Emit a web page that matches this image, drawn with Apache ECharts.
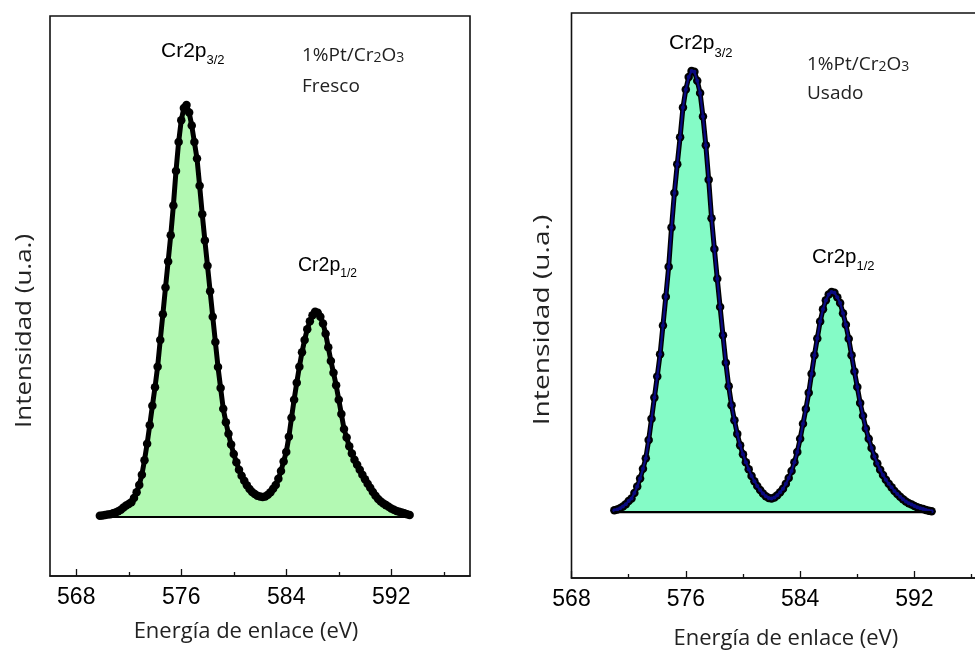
<!DOCTYPE html>
<html><head><meta charset="utf-8">
<script src="https://cdn.jsdelivr.net/npm/echarts@6/dist/echarts.min.js"></script>
<style>html,body{margin:0;padding:0;background:#fff}#c{width:975px;height:654px}</style>
</head><body><div id="c"></div>
<script>
// ---- data (binding energy in eV, intensity in arbitrary units, baseline = 0) ----
const freshEnergy = [
569.8,570.0,570.2,570.4,570.6,570.8,571.0,571.2,571.4,571.6,
571.8,572.0,572.2,572.4,572.6,572.8,573.0,573.2,573.4,573.6,
573.8,574.0,574.2,574.4,574.6,574.8,575.0,575.2,575.4,575.6,
575.8,576.0,576.2,576.4,576.6,576.8,577.0,577.2,577.4,577.6,
577.8,578.0,578.2,578.4,578.6,578.8,579.0,579.2,579.4,579.6,
579.8,580.0,580.2,580.4,580.6,580.8,581.0,581.2,581.4,581.6,
581.8,582.0,582.2,582.4,582.6,582.8,583.0,583.2,583.4,583.6,
583.8,584.0,584.2,584.4,584.6,584.8,585.0,585.2,585.4,585.6,
585.8,586.0,586.2,586.4,586.6,586.8,587.0,587.2,587.4,587.6,
587.8,588.0,588.2,588.4,588.6,588.8,589.0,589.2,589.4,589.6,
589.8,590.0,590.2,590.4,590.6,590.8,591.0,591.2,591.4,591.6,
591.8,592.0,592.2,592.4,592.6,592.8,593.0,593.2,593.4];
const freshIntensity = [
0.3,0.4,0.5,0.6,0.7,0.9,1.1,1.4,1.8,2.3,
2.8,3.2,3.6,4.6,6.0,7.8,10.3,13.8,17.8,22.3,
27.0,31.5,36.5,43.0,49.2,55.7,62.0,68.4,75.6,84.0,
91.0,96.3,99.3,100,98.2,95.0,91.0,87.0,80.4,73.5,
67.1,61.0,54.8,48.6,42.5,36.4,31.3,26.3,23.0,20.2,
17.6,15.3,13.3,11.5,10.0,8.8,7.7,6.8,6.1,5.6,
5.2,5.0,4.9,5.0,5.4,6.0,6.9,7.8,9.3,11.2,
13.5,15.8,19.5,24.1,28.5,32.6,36.5,40.0,43.0,45.6,
47.5,49.0,49.8,49.6,48.6,47.0,44.5,41.2,37.9,35.0,
32.0,28.5,25.0,21.4,19.3,17.2,15.4,13.9,12.7,11.5,
10.3,9.2,8.1,7.1,6.1,5.2,4.4,3.8,3.3,2.9,
2.5,2.1,1.8,1.5,1.3,1.1,0.9,0.7,0.5];
const usedEnergy = [
571.0,571.2,571.4,571.6,571.8,572.0,572.2,572.4,572.6,572.8,
573.0,573.2,573.4,573.6,573.8,574.0,574.2,574.4,574.6,574.8,
575.0,575.2,575.4,575.6,575.8,576.0,576.2,576.4,576.6,576.8,
577.0,577.2,577.4,577.6,577.8,578.0,578.2,578.4,578.6,578.8,
579.0,579.2,579.4,579.6,579.8,580.0,580.2,580.4,580.6,580.8,
581.0,581.2,581.4,581.6,581.8,582.0,582.2,582.4,582.6,582.8,
583.0,583.2,583.4,583.6,583.8,584.0,584.2,584.4,584.6,584.8,
585.0,585.2,585.4,585.6,585.8,586.0,586.2,586.4,586.6,586.8,
587.0,587.2,587.4,587.6,587.8,588.0,588.2,588.4,588.6,588.8,
589.0,589.2,589.4,589.6,589.8,590.0,590.2,590.4,590.6,590.8,
591.0,591.2,591.4,591.6,591.8,592.0,592.2,592.4,592.6,592.8,
593.0,593.2];
const usedIntensity = [
0.4,0.6,0.9,1.3,1.8,2.5,3.1,4.3,5.8,7.6,
9.8,12.2,16.3,21.1,25.9,30.7,35.7,42.2,48.7,55.5,
64.4,72.2,78.7,84.8,91.5,95.6,98.4,99.8,99.6,97.6,
94.8,89.5,83.0,75.2,66.5,59.5,52.8,46.4,40.0,33.8,
28.5,24.2,20.8,17.7,15.1,13.1,11.3,9.7,8.2,7.0,
5.9,5.0,4.2,3.6,3.2,3.1,3.3,3.8,4.5,5.3,
6.4,7.7,9.3,11.3,13.6,16.6,20.0,23.3,27.0,31.3,
35.5,39.3,43.1,45.9,47.9,49.2,49.8,49.6,48.6,47.3,
45.0,42.4,39.2,35.5,31.8,28.3,24.7,21.8,18.9,16.6,
14.5,12.6,11.0,9.6,8.4,7.3,6.4,5.6,4.8,4.1,
3.5,2.9,2.4,2.0,1.7,1.4,1.1,0.9,0.7,0.5,
0.3,0.2];
const majorTicks = [568, 576, 584, 592];
const minorTicks = [572, 580, 588, 596];
const xTitle = 'Energía de enlace (eV)';
const yTitle = 'Intensidad (u.a.)';
const peakMain = 'Cr2p';
const peak1Sub = '3/2';
const peak2Sub = '1/2';
const sampleTokens = [['1%Pt/Cr', 0], ['2', 1], ['O', 0], ['3', 1]];
const freshLabel = 'Fresco';
const usedLabel = 'Usado';

// ---- helpers ----
const pairs = (xs, ys) => xs.map((x, i) => [x, ys[i]]);
const mctx = document.createElement('canvas').getContext('2d');
function measure(t, font) { mctx.font = font; return mctx.measureText(t).width; }
const ARIAL = '"Liberation Sans", Arial, sans-serif';
const SANS = '"Open Sans", sans-serif';
function txt(x, y, text, size, family, color) {
  return { type: 'text', x: x, y: y, silent: true,
    style: { text: text, font: size + 'px ' + family, fill: color, align: 'left', verticalAlign: 'top' } };
}
function row(x, y, tokens, family, size, subSize, subDy, color) {
  const out = []; let cx = x;
  tokens.forEach(([t, isSub]) => {
    const s = isSub ? subSize : size;
    out.push(txt(cx, isSub ? y + subDy : y, t, s, family, color));
    cx += measure(t, s + 'px ' + family);
  });
  return out;
}

const chart = echarts.init(document.getElementById('c'), null, { renderer: 'canvas' });

function xAxes(grid, min, max, nameGap, namePad) {
  return [
    { type: 'value', gridIndex: grid, min: min, max: max, position: 'bottom',
      axisLine: { show: true, onZero: false, lineStyle: { color: '#111', width: 1.6 } },
      axisTick: { show: true, inside: true, length: 7, customValues: majorTicks, lineStyle: { color: '#111', width: 1.3 } },
      axisLabel: { show: true, customValues: majorTicks, fontSize: 23, fontFamily: ARIAL, color: '#000', margin: 10 },
      splitLine: { show: false },
      name: xTitle, nameLocation: 'middle', nameGap: nameGap,
      nameTextStyle: { fontFamily: SANS, fontSize: 22, color: '#222', padding: namePad } },
    { type: 'value', gridIndex: grid, min: min, max: max, position: 'bottom',
      axisLine: { show: false, onZero: false },
      axisTick: { show: true, inside: true, length: 4, customValues: minorTicks, lineStyle: { color: '#111', width: 1.3 } },
      axisLabel: { show: false }, splitLine: { show: false } }
  ];
}
function yAxis(grid, min, max) {
  return { type: 'value', gridIndex: grid, min: min, max: max,
    axisLine: { show: false, onZero: false }, axisTick: { show: false }, axisLabel: { show: false }, splitLine: { show: false } };
}

const graphics = [].concat(
  row(161, 41, [[peakMain, 0], [peak1Sub, 1]], ARIAL, 21, 13, 13, '#000'),
  row(298, 256, [[peakMain, 0], [peak2Sub, 1]], ARIAL, 19.5, 12, 12, '#000'),
  row(302, 46, sampleTokens, SANS, 19, 14, 5, '#222'),
  [txt(302, 77, freshLabel, 19, SANS, '#222')],
  row(669, 33, [[peakMain, 0], [peak1Sub, 1]], ARIAL, 21, 13, 13.5, '#000'),
  row(812, 247, [[peakMain, 0], [peak2Sub, 1]], ARIAL, 20.5, 13, 13, '#000'),
  row(807, 55, sampleTokens, SANS, 19, 14, 5, '#222'),
  [txt(807, 84.5, usedLabel, 19, SANS, '#222')],
  [{ type: 'text', x: 25, y: 331, rotation: Math.PI / 2, scaleX: 1.18, silent: true,
     style: { text: yTitle, font: '22px ' + SANS, fill: '#222', align: 'center', verticalAlign: 'middle' } },
   { type: 'text', x: 543, y: 320, rotation: Math.PI / 2, scaleX: 1.28, silent: true,
     style: { text: yTitle, font: '22px ' + SANS, fill: '#222', align: 'center', verticalAlign: 'middle' } }]
);

const freshN = freshEnergy.length - 1, usedN = usedEnergy.length - 1;

chart.setOption({
  animation: false,
  backgroundColor: '#fff',
  grid: [
    { left: 50, top: 16, width: 420, height: 560, outerBoundsMode: 'none', containLabel: false,
      show: true, borderColor: '#111', borderWidth: 1.6, backgroundColor: 'transparent' },
    { left: 571.5, top: 13, width: 428.7, height: 565, outerBoundsMode: 'none', containLabel: false,
      show: true, borderColor: '#111', borderWidth: 1.6, backgroundColor: 'transparent' }
  ],
  xAxis: [].concat(xAxes(0, 566, 598, 45, [0, 28, 0, 0]), xAxes(1, 568, 598, 50, [0, 0, 0, 0])),
  yAxis: [yAxis(0, -14.3, 121.6), yAxis(1, -14.9, 112.9)],
  graphic: graphics,
  series: [
    { type: 'line', xAxisIndex: 0, yAxisIndex: 0, data: pairs(freshEnergy, freshIntensity),
      symbol: 'circle', symbolSize: 8.5, showSymbol: true, showAllSymbol: true,
      itemStyle: { color: '#000' }, lineStyle: { color: '#000', width: 5 },
      areaStyle: { color: '#b3f9b3', opacity: 1 }, z: 2 },
    { type: 'line', xAxisIndex: 0, yAxisIndex: 0,
      data: [[freshEnergy[0], 0], [freshEnergy[freshN], 0]],
      symbol: 'none', lineStyle: { color: '#000', width: 2 }, z: 3 },
    { type: 'line', xAxisIndex: 2, yAxisIndex: 1, data: pairs(usedEnergy, usedIntensity),
      symbol: 'circle', symbolSize: 8.5, showSymbol: true, showAllSymbol: true,
      itemStyle: { color: '#000' }, lineStyle: { color: '#000', width: 5 },
      areaStyle: { color: '#84fbc6', opacity: 1 }, z: 2 },
    { type: 'line', xAxisIndex: 2, yAxisIndex: 1, data: pairs(usedEnergy, usedIntensity),
      symbol: 'circle', symbolSize: 4, showSymbol: true, showAllSymbol: true,
      itemStyle: { color: '#0a0a80' }, lineStyle: { color: '#0a0a80', width: 2.2 }, z: 3 },
    { type: 'line', xAxisIndex: 2, yAxisIndex: 1,
      data: [[usedEnergy[0], 0], [usedEnergy[usedN], 0]],
      symbol: 'none', lineStyle: { color: '#000', width: 2.2 }, z: 4 }
  ]
});
</script></body></html>
